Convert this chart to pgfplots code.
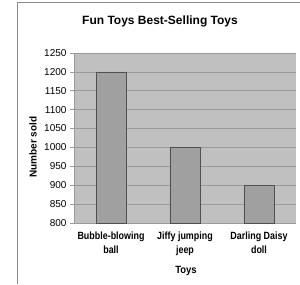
\documentclass[border=0pt]{standalone}
\usepackage{pgfplots}
\pgfplotsset{compat=1.18}
\usepackage{fontspec}
\setmainfont{Liberation Sans}
\definecolor{plotbg}{HTML}{C0C0C0}
\definecolor{barfill}{HTML}{A0A0A0}
\definecolor{baredge}{HTML}{505050}
\definecolor{gridc}{HTML}{9A9A9A}
\definecolor{framec}{HTML}{8C8C8C}
\begin{document}
\begin{tikzpicture}[x=1pt,y=1pt]
\useasboundingbox (0,0) rectangle (300,284);
\fill[white] (0,0) rectangle (300,284);
\draw[framec, line width=1pt] (17.5,0) -- (17.5,281) -- (300,281);
\begin{axis}[
  at={(74pt,61pt)}, anchor=south west,
  width=222pt, height=170pt, scale only axis,
  xmin=0, xmax=3, ymin=800, ymax=1250,
  ytick={800,850,...,1250},
  ymajorgrids, grid style={gridc, line width=0.6pt},
  axis background/.style={fill=plotbg},
  axis x line*=bottom, axis y line*=left,
  axis line style={gridc, line width=0.6pt},
  xtick={0.5,1.5,2.5},
  xticklabels={\scalebox{0.85}[1]{Bubble-blowing}\\\scalebox{0.85}[1]{ball}, \scalebox{0.85}[1]{Jiffy jumping}\\\scalebox{0.85}[1]{jeep}, \scalebox{0.85}[1]{Darling Daisy}\\\scalebox{0.85}[1]{doll}},
  x tick label style={font=\fontsize{10.5}{14}\selectfont\bfseries, align=center, yshift=-1pt},
  major x tick style={draw=none},
  extra x ticks={1,2,3},
  extra x tick labels={},
  extra x tick style={tick style={gridc, line width=0.6pt}, major tick length=4pt, tick align=outside, grid=none},
  y tick label style={font=\fontsize{10}{12}\selectfont},
  ytick style={gridc, line width=0.6pt},
  tick align=outside, major tick length=4pt,
  /pgf/number format/assume math mode=true,
  /pgf/number format/1000 sep={},
  clip=false,
]
\addplot[ybar, bar width=30pt, fill=barfill, draw=baredge, line width=0.7pt]
  coordinates {(0.5,1200) (1.5,1000) (2.5,900)};
\end{axis}
\node[font=\fontsize{12}{14}\selectfont\bfseries] at (160,263) {Fun Toys Best-Selling Toys};
\node[font=\fontsize{10}{12}\selectfont\bfseries, rotate=90] at (33,137) {Number sold};
\node[font=\fontsize{10.5}{12}\selectfont\bfseries] at (186,13) {\scalebox{0.9}[1]{Toys}};
\end{tikzpicture}
\end{document}
